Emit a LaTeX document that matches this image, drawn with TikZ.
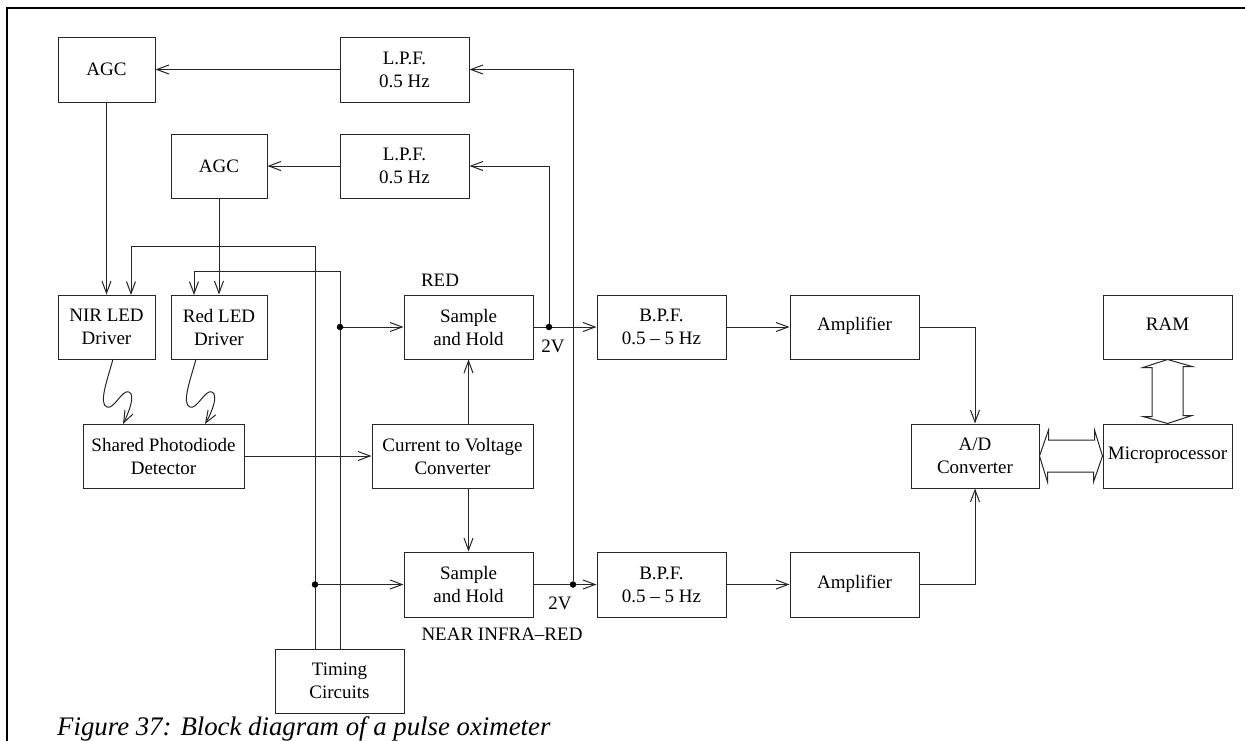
\documentclass[tikz,border=0pt]{standalone}
\usepackage{fontspec}
\setmainfont{Liberation Serif}
\usetikzlibrary{arrows.meta,calc}
\begin{document}
\begin{tikzpicture}[x=1pt,y=-1pt,
  box/.style={draw=black!85,line width=1pt,rectangle,minimum width=129pt,minimum height=64pt,inner sep=0pt,align=center,font=\fontsize{19}{23}\selectfont},
  wire/.style={draw=black!85,line width=1pt},
  arr/.style={wire,-{Straight Barb[length=12pt,width=9pt,line width=1pt]}},
  dot/.style={circle,fill=black,inner sep=0pt,minimum size=6.5pt},
  lbl/.style={inner sep=0pt,font=\fontsize{19}{23}\selectfont},
  bus/.style={draw=black!85,line width=1pt,fill=white}]
\useasboundingbox (0,0) rectangle (1245,740);
\draw[line width=2pt] (7,741) -- (7,8) -- (1246,8);

% boxes
\node[box,minimum width=97pt,minimum height=65pt] (agcA) at (106.5,69.5) {AGC};
\node[box,minimum height=65pt] (lpfA) at (404.5,69.5) {L.P.F.\\0.5 Hz};
\node[box,minimum width=96pt] (agcB) at (219,166) {AGC};
\node[box] (lpfB) at (404.5,166) {L.P.F.\\0.5 Hz};
\node[box,minimum width=97pt] (nir) at (106.5,327) {NIR LED\\Driver};
\node[box,minimum width=96pt] (red) at (219,327) {Red LED\\Driver};
\node[box,minimum width=161pt] (pd) at (163.5,456) {Shared Photodiode\\Detector};
\node[box,minimum width=161pt] (cv) at (452.5,456) {Current to Voltage\\Converter};
\node[box] (shA) at (468.5,327) {Sample\\and Hold};
\node[box,minimum height=65pt] (shB) at (468.5,584.5) {Sample\\and Hold};
\node[box] (bpfA) at (661.5,327) {B.P.F.\\0.5 -- 5 Hz};
\node[box,minimum height=65pt] (bpfB) at (661.5,584.5) {B.P.F.\\0.5 -- 5 Hz};
\node[box,text depth=6pt] (ampA) at (854.5,327) {Amplifier};
\node[box,minimum height=65pt,text depth=6pt] (ampB) at (854.5,584.5) {Amplifier};
\node[box,text depth=6pt] (ram) at (1167.5,327) {RAM};
\node[box,minimum width=128pt] (ad) at (975,456) {A/D\\Converter};
\node[box,text depth=6pt] (mp) at (1167.5,456) {Microprocessor};
\node[box] (tim) at (339.5,681) {Timing\\Circuits};

% labels
\node[lbl] (lRed) at (440,280) {RED};
\node[lbl] (l2vA) at (553,346) {2V};
\node[lbl] (l2vB) at (560,603) {2V};
\node[lbl] (lNir) at (502,634) {NEAR INFRA--RED};
\node[anchor=base west,inner sep=0pt,font=\fontsize{26.8}{30}\selectfont\itshape] (cap) at (57,735) {Figure 37: Block diagram of a pulse oximeter};

% AGC loops
\draw[arr] (lpfA) -- (agcA);
\draw[arr] (lpfB) -- (agcB);
\draw[arr] (agcA) -- (nir);
\draw[arr] (agcB) -- (red);

% timing
\coordinate (tL) at (315,649);
\coordinate (tR) at (340,649);
\coordinate (nirIn) at (131,295);
\coordinate (redIn) at (194,295);
\draw[arr] (tL) -- (315,246) -| (nirIn);
\draw[arr] (tR) -- (340,271) -| (redIn);
\node[dot] (dR) at (340,327) {};
\node[dot] (dN) at (315,584.5) {};
\draw[arr] (dR) -- (shA.west);
\draw[arr] (dN) -- (shB.west);

% light paths
\coordinate (nirOut) at (113,359);
\coordinate (redOut) at (196,359);
\coordinate (pdA) at (123,424);
\coordinate (pdB) at (205,424);
\draw[arr] (nirOut) .. controls (108,378) and (98,404) .. (107,407)
  .. controls (114,410) and (122,389) .. (129,392)
  .. controls (136,395) and (128,414) .. (pdA);
\draw[arr] (redOut) .. controls (191,378) and (181,404) .. (190,407)
  .. controls (197,410) and (205,389) .. (212,392)
  .. controls (219,395) and (211,414) .. (pdB);

% signal chain
\draw[arr] (pd) -- (cv);
\draw[arr] (cv.north -| shA.south) -- (shA.south);
\draw[arr] (cv.south -| shB.north) -- (shB.north);
\node[dot] (oA) at (549,327) {};
\node[dot] (oB) at (573,584.5) {};
\draw[wire] (shA.east) -- (oA);
\draw[arr] (oA) -- (bpfA.west);
\draw[wire] (shB.east) -- (oB);
\draw[arr] (oB) -- (bpfB.west);
\draw[arr] (oA) |- (lpfB.east);
\draw[arr] (oB) |- (lpfA.east);
\draw[arr] (bpfA) -- (ampA);
\draw[arr] (bpfB) -- (ampB);
\draw[arr] (ampA.east) -| (ad.north);
\draw[arr] (ampB.east) -| (ad.south);

% buses
\draw[bus] (ad.east) -- ++(9,-26) -- ++(0,10) -- ++(46,0) -- ++(0,-10) -- (mp.west)
  -- ++(-9,26) -- ++(0,-10) -- ++(-46,0) -- ++(0,10) -- cycle;
\draw[bus] (ram.south) -- ++(-24.5,8) -- ++(9,0) -- ++(0,49) -- ++(-9,0) -- (mp.north)
  -- ++(24.5,-8) -- ++(-9,0) -- ++(0,-49) -- ++(9,0) -- cycle;
\end{tikzpicture}
\end{document}
